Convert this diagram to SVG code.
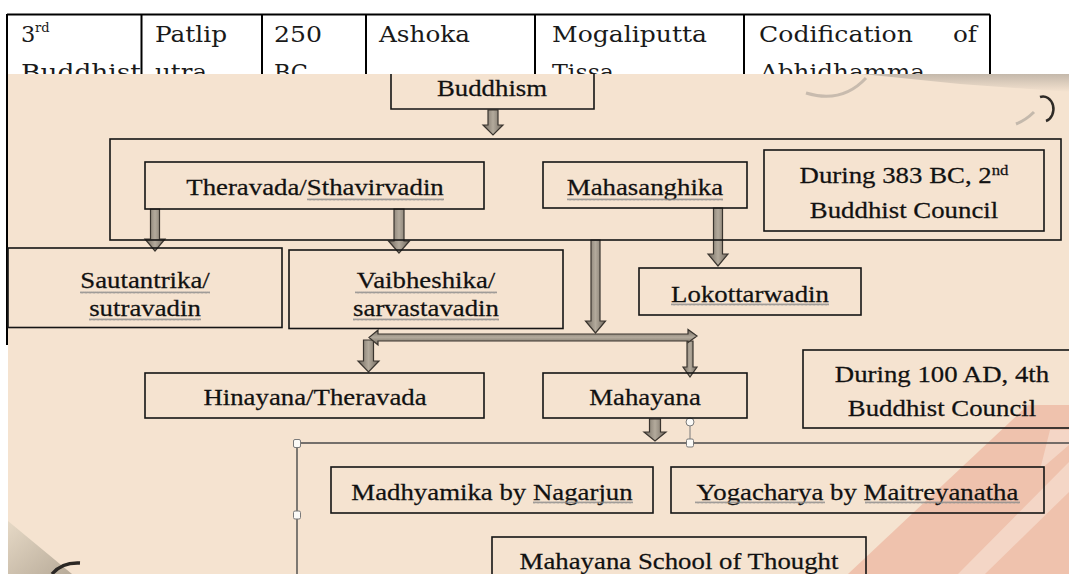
<svg xmlns="http://www.w3.org/2000/svg" width="1069" height="574" viewBox="0 0 1069 574">
<defs>
<style>
.tb{font-family:"DejaVu Serif","Liberation Serif",serif;font-size:22.5px;fill:#1a1a1a}
.sup{font-size:13px}
.t{font-family:"Liberation Serif","Times New Roman",serif;font-size:24px;fill:#111;stroke:#111;stroke-width:0.25;text-anchor:middle}
.box{fill:none;stroke:#151515;stroke-width:1.6}
.tl{stroke:#000;stroke-width:2;fill:none}
.arr{stroke:#3a352f;stroke-width:1.2;stroke-linejoin:miter}
.av{fill:url(#gv)}
.ah{fill:url(#gh)}
.wave{fill:url(#wv)}
.sel{fill:none;stroke:#4a4a4a;stroke-width:1.4}
.hd{fill:#fbfaf7;stroke:#7a7a7a;stroke-width:1}
</style>
<linearGradient id="gv" x1="0" y1="0" x2="1" y2="0">
<stop offset="0" stop-color="#6f675d"/><stop offset="0.5" stop-color="#b3aa9c"/><stop offset="1" stop-color="#6f675d"/>
</linearGradient>
<linearGradient id="gh" x1="0" y1="0" x2="0" y2="1">
<stop offset="0" stop-color="#6f675d"/><stop offset="0.5" stop-color="#b3aa9c"/><stop offset="1" stop-color="#6f675d"/>
</linearGradient>
<linearGradient id="curl" x1="0" y1="0" x2="1" y2="1">
<stop offset="0" stop-color="#e6d9c6"/><stop offset="1" stop-color="#b8ab99"/>
</linearGradient>
<linearGradient id="shade" x1="0" y1="0" x2="0" y2="1">
<stop offset="0" stop-color="#9c958c" stop-opacity="0.55"/><stop offset="1" stop-color="#9c958c" stop-opacity="0"/>
</linearGradient>
<pattern id="wv" width="4" height="3" patternUnits="userSpaceOnUse">
<path d="M0,2.5 L1,0.5 L2,2.5 L3,0.5 L4,2.5" fill="none" stroke="#8a8a8a" stroke-width="0.8"/>
</pattern>
</defs>

<rect x="0" y="0" width="1069" height="574" fill="#ffffff"/>

<!-- table (behind picture) -->
<g id="table">
<path class="tl" d="M7,14.5 H990 M141.5,14.5 V80 M262,14.5 V80 M366,14.5 V80 M535,14.5 V80 M744,14.5 V80 M990,14.5 V80"/>
<text class="tb" x="21" y="42">3</text>
<text class="tb sup" x="35" y="32">rd</text>
<text class="tb" x="155" y="42" textLength="72" lengthAdjust="spacingAndGlyphs">Patlip</text>
<text class="tb" x="274" y="42" textLength="48" lengthAdjust="spacingAndGlyphs">250</text>
<text class="tb" x="379" y="42" textLength="91" lengthAdjust="spacingAndGlyphs">Ashoka</text>
<text class="tb" x="552" y="42" textLength="155" lengthAdjust="spacingAndGlyphs">Mogaliputta</text>
<text class="tb" x="759" y="42" textLength="154" lengthAdjust="spacingAndGlyphs">Codification</text>
<text class="tb" x="953" y="42" textLength="24" lengthAdjust="spacingAndGlyphs">of</text>
<text class="tb" x="21" y="80" textLength="120" lengthAdjust="spacingAndGlyphs">Buddhist</text>
<text class="tb" x="155" y="80" textLength="52" lengthAdjust="spacingAndGlyphs">utra</text>
<text class="tb" x="274" y="80" textLength="34" lengthAdjust="spacingAndGlyphs">BC</text>
<text class="tb" x="552" y="80" textLength="62" lengthAdjust="spacingAndGlyphs">Tissa</text>
<text class="tb" x="760" y="80" textLength="165" lengthAdjust="spacingAndGlyphs">Abhidhamma</text>
</g>

<!-- picture background -->
<rect x="8" y="74" width="1061" height="500" fill="#f5e3d0"/>
<line class="tl" x1="7" y1="14" x2="7" y2="345"/>

<!-- decorations -->
<g id="decor">
<polygon points="862,74 1069,74 1069,92 960,84" fill="url(#shade)"/>
<path d="M806,93 Q842,104 866,78" fill="none" stroke="#a29b92" stroke-opacity="0.55" stroke-width="3"/>
<path d="M1040,97 A10,12 0 1 1 1046,121" fill="none" stroke="#2f2b27" stroke-width="2.5"/>
<path d="M1034,112 Q1026,120 1016,124" fill="none" stroke="#a39d95" stroke-opacity="0.6" stroke-width="3"/>
<polygon points="1028,405 1069,405 1069,574 848,574" fill="#efc2ad"/>
<polygon points="1069,462 1069,492 985,574 958,574" fill="#f4d6c6"/>
<polygon points="1050,430 1069,430 1069,445 1040,470" fill="#f4d6c6"/>
<polygon points="8,521 8,574 72,574" fill="url(#curl)"/>
<path d="M52,574 Q62,562 80,563" fill="none" stroke="#2b2724" stroke-width="3.5"/>
</g>

<!-- connectors -->
<g id="connectors">
<polygon class="arr av" points="488,110 498,110 498,125 503,125 493,135 483,125 488,125"/>
<polygon class="arr av" points="150.5,209 159.5,209 159.5,239 165,239 155,251 145,239 150.5,239"/>
<polygon class="arr av" points="394,209 404,209 404,241 409.5,241 399,253 388.5,241 394,241"/>
<polygon class="arr av" points="713.5,208 722.5,208 722.5,254 728,254 718,266 708,254 713.5,254"/>
<polygon class="arr av" points="591,240 600,240 600,321 605.5,321 595.5,333 585.5,321 591,321"/>
<polygon class="arr av" points="363.5,340 373.5,340 373.5,361 379,361 368.5,372 358,361 363.5,361"/>
<polygon class="arr av" points="687,341 693,341 693,367 697,367 690,377 683,367 687,367"/>
<polygon class="arr ah" points="378,334 688,334 688,329.5 697,336 688,342.5 688,341 378,341 378,345 369,337.5 378,330"/>
<polygon class="arr av" points="649.5,419 660.5,419 660.5,432 666,432 655,441 644,432 649.5,432"/>
</g>

<!-- selection frame -->
<g id="selection">
<path class="sel" d="M297,574 V443 H1069"/>
<line x1="690" y1="426" x2="690" y2="440" stroke="#7a7a7a" stroke-width="1"/>
<circle cx="690" cy="422" r="4" class="hd"/>
<rect class="hd" x="293.5" y="439.5" width="7" height="8" rx="1.5"/>
<rect class="hd" x="293.5" y="511" width="7" height="8" rx="1.5"/>
<rect class="hd" x="686.5" y="439" width="7" height="8" rx="1.5"/>
</g>

<g id="buddhism">
<path class="box" d="M391,74 V109 H594 V74"/>
<text class="t" transform="translate(492,96) scale(1.117,1)">Buddhism</text>
</g>

<g id="council2-container">
<rect class="box" x="110" y="139" width="951" height="101"/>
</g>

<g id="theravada">
<rect class="box" x="145" y="162" width="339" height="47"/>
<text class="t" transform="translate(315,194.5) scale(1.117,1)">Theravada/Sthavirvadin</text>
<rect class="wave" x="307" y="198" width="137" height="3"/>
</g>

<g id="mahasanghika">
<rect class="box" x="543" y="162" width="204" height="46"/>
<text class="t" transform="translate(645,194.5) scale(1.117,1)">Mahasanghika</text>
<rect class="wave" x="567" y="198" width="156" height="3"/>
</g>

<g id="council2">
<rect class="box" x="764" y="150" width="280" height="81"/>
<text class="t" transform="translate(904,183) scale(1.117,1)">During 383 BC, 2<tspan font-size="15" dy="-8">nd</tspan></text>
<text class="t" transform="translate(904,218) scale(1.117,1)">Buddhist Council</text>
</g>

<g id="sautantrika">
<rect class="box" x="8" y="248" width="274" height="79.5"/>
<text class="t" transform="translate(145,288) scale(1.117,1)">Sautantrika/</text>
<text class="t" transform="translate(145,316) scale(1.117,1)">sutravadin</text>
<rect class="wave" x="80" y="291" width="130" height="3"/>
<rect class="wave" x="89" y="318" width="112" height="3"/>
</g>

<g id="vaibheshika">
<rect class="box" x="289" y="250" width="274" height="78.5"/>
<text class="t" transform="translate(426,288) scale(1.117,1)">Vaibheshika/</text>
<text class="t" transform="translate(426,316) scale(1.117,1)">sarvastavadin</text>
<rect class="wave" x="355" y="291" width="142" height="3"/>
<rect class="wave" x="353" y="318" width="146" height="3"/>
</g>

<g id="lokottarwadin">
<rect class="box" x="639" y="268" width="222" height="47"/>
<text class="t" transform="translate(750,302) scale(1.117,1)">Lokottarwadin</text>
<rect class="wave" x="671" y="303" width="158" height="3"/>
</g>

<g id="hinayana">
<rect class="box" x="145" y="373" width="339" height="45"/>
<text class="t" transform="translate(315,405) scale(1.117,1)">Hinayana/Theravada</text>
</g>

<g id="mahayana">
<rect class="box" x="543" y="373" width="204" height="45"/>
<text class="t" transform="translate(645,405) scale(1.117,1)">Mahayana</text>
</g>

<g id="council4">
<rect class="box" x="803" y="350" width="278" height="78"/>
<text class="t" transform="translate(942,382) scale(1.117,1)">During 100 AD, 4th</text>
<text class="t" transform="translate(942,416) scale(1.117,1)">Buddhist Council</text>
</g>

<g id="madhyamika">
<rect class="box" x="331" y="467" width="322" height="46"/>
<text class="t" transform="translate(492,500) scale(1.117,1)">Madhyamika by Nagarjun</text>
<rect class="wave" x="533" y="501" width="100" height="3"/>
</g>

<g id="yogacharya">
<rect class="box" x="671" y="467" width="373" height="46"/>
<text class="t" transform="translate(857.5,500) scale(1.117,1)">Yogacharya by Maitreyanatha</text>
<rect class="wave" x="695" y="501" width="130" height="3"/>
<rect class="wave" x="865" y="501" width="155" height="3"/>
</g>

<g id="mahayana-school">
<rect class="box" x="492" y="537" width="374" height="50"/>
<text class="t" transform="translate(679,569) scale(1.117,1)">Mahayana School of Thought</text>
</g>
</svg>
